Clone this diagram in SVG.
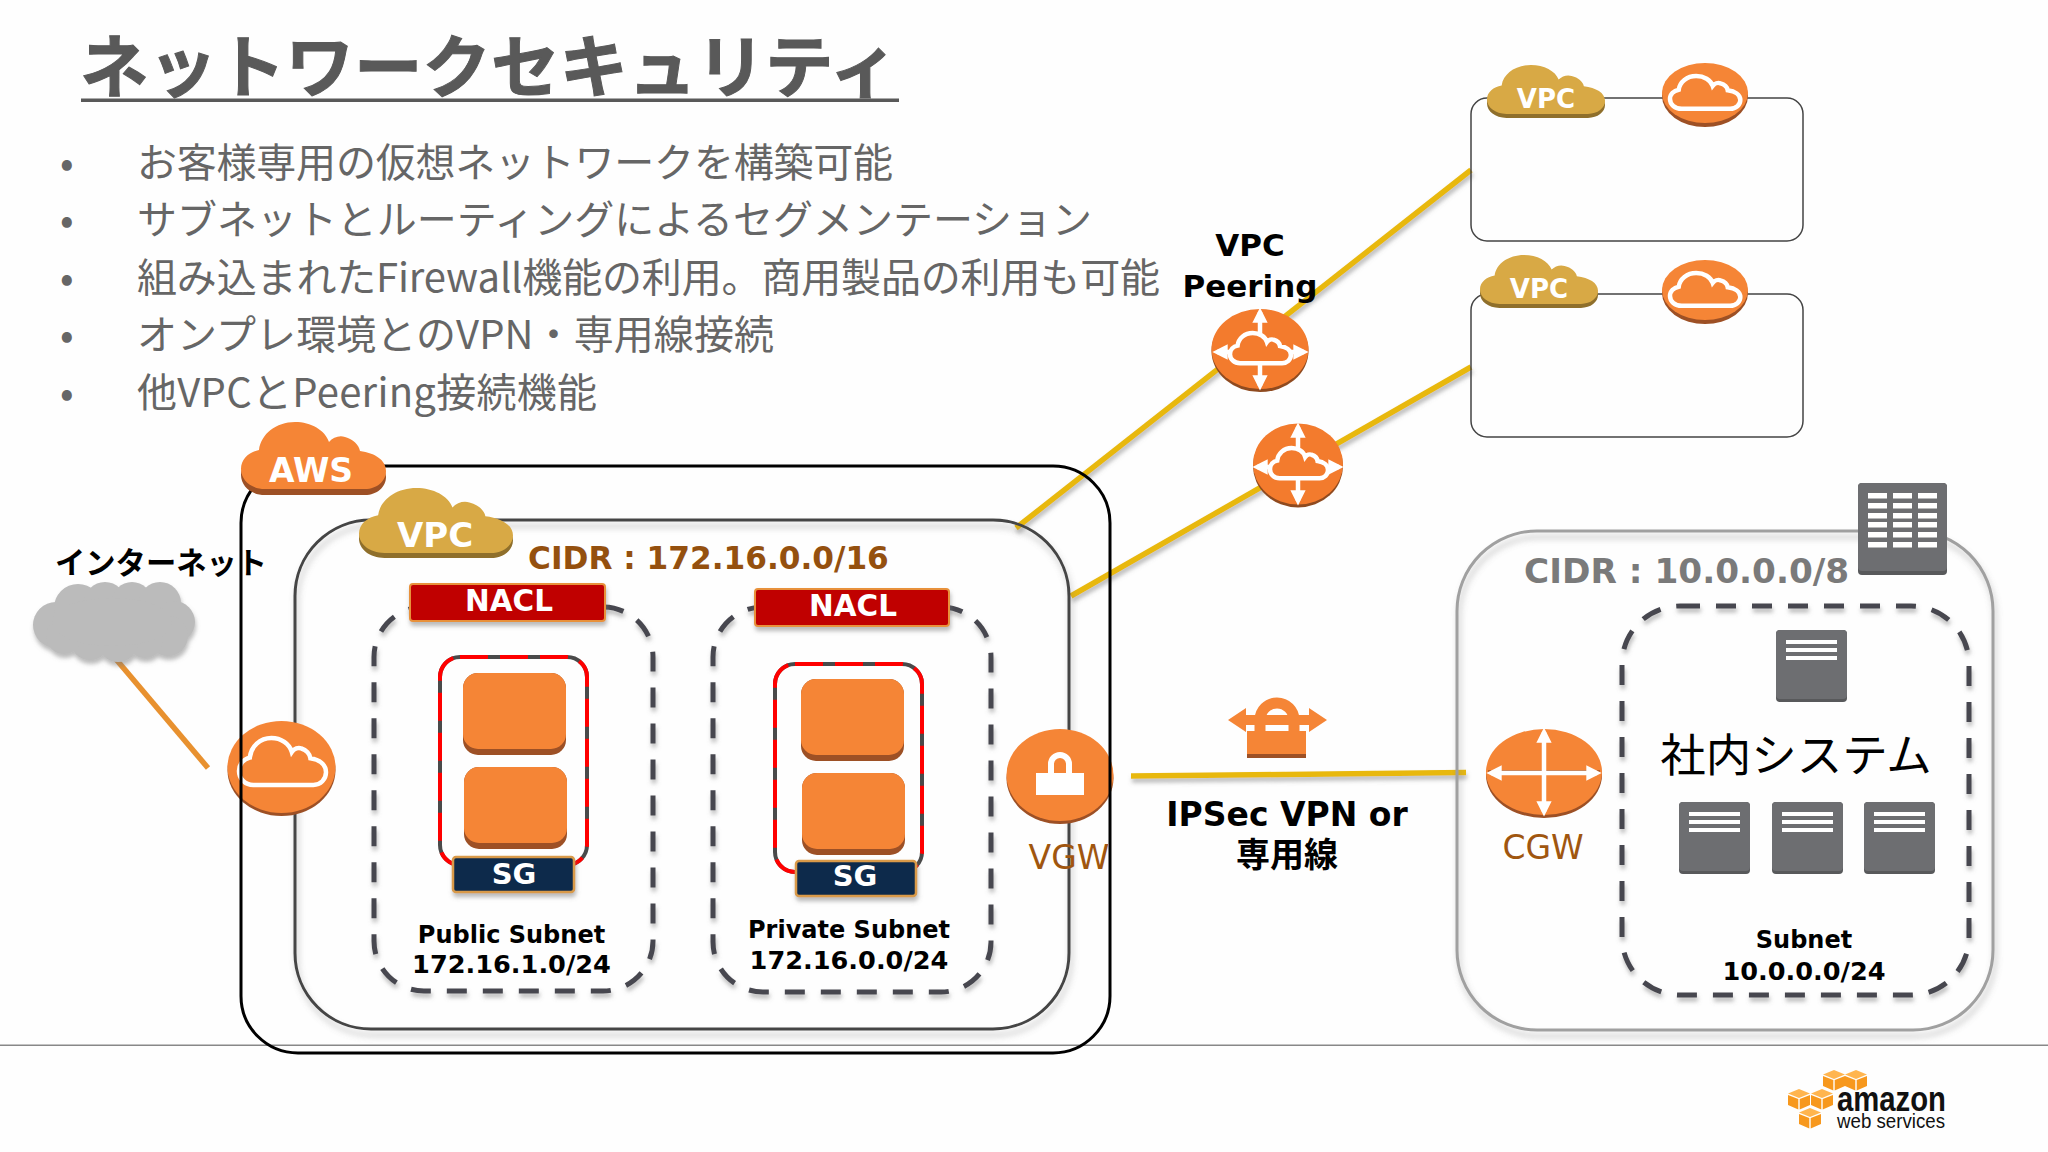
<svg xmlns="http://www.w3.org/2000/svg" width="2048" height="1152" viewBox="0 0 2048 1152">
<style>
.jp{font-family:"Noto Sans CJK JP","Noto Sans",sans-serif}
.dv{font-family:"DejaVu Sans","Noto Sans CJK JP",sans-serif}
.b{font-weight:700}
.m{text-anchor:middle}
.bl{font-size:40px;fill:#666}
.w{fill:#fff}
.k{fill:#000}
.cap{font-size:24px}
.num{font-size:25.600px}
.br{fill:#A0560F}
.yl{stroke:#E8B80C;stroke-width:5.500;fill:none}
.dash{fill:none;stroke:#47474F;stroke-width:5;stroke-dasharray:20 16}
.o{fill:#F58536}
.od{fill:#9D5025}
.p{fill:#F37B2D}
.pd{fill:#8F4A1F}
.g{fill:#D8A945}
.gd{fill:#8F6F2B}
.srv{fill:#6D6E71}
.srvd{fill:#58595B}
.wl{fill:none;stroke:#fff;stroke-width:4.500}
.arr{stroke:#fff;stroke-width:4.500;fill:none;marker-start:url(#wa);marker-end:url(#wa)}
.sgr{fill:none;stroke:#4A4A4A;stroke-width:4}
.sgd{fill:none;stroke:#F00;stroke-width:4;stroke-dasharray:28 12}
</style>
<defs>
<filter id="sh" filterUnits="userSpaceOnUse" x="0" y="0" width="2048" height="1152"><feDropShadow dx="2" dy="6" stdDeviation="3" flood-color="#777" flood-opacity=".45"/></filter>
<filter id="shs" filterUnits="userSpaceOnUse" x="0" y="0" width="2048" height="1152"><feDropShadow dx="1" dy="4" stdDeviation="2" flood-color="#777" flood-opacity=".5"/></filter>
<marker id="wa" viewBox="0 0 10 10" refX="7" refY="5" markerWidth="3.400" markerHeight="3.400" orient="auto-start-reverse"><path d="M0 0L10 5L0 10Z" fill="#fff"/></marker>
<path id="cl" vector-effect="non-scaling-stroke" d="M24 67C10 67 0 58 0 47C0 37 8 30 18 28C20 12 35 0 54 0C70 0 84 8 88 20C92 15 99 13 104 15C112 17 118 23 119 29C134 31 145 38 145 49C145 59 136 67 124 67Z"/>
<g id="srvI"><rect class="srvd" width="71" height="72" rx="4"/><rect class="srv" width="71" height="69" rx="4"/><rect class="w" x="10" y="10" width="51" height="4"/><rect class="w" x="10" y="18" width="51" height="4"/><rect class="w" x="10" y="26" width="51" height="4"/></g>
<g id="ec2a"><rect class="od" width="103" height="82" rx="15"/><rect class="o" width="103" height="76" rx="15"/></g>
<g id="cube"><path fill="#FFB54F" d="M11 0L22 4.500L11 9L0 4.500Z"/><path fill="#F7981D" d="M0 6L10.300 10V20.500L0 16ZM11.700 10L22 6V16L11.700 20.500Z"/></g>
<g id="igw"><ellipse class="od" cx="0" cy="3" rx="43" ry="31"/><ellipse class="o" cx="0" cy="0" rx="43" ry="30"/><use href="#cl" class="wl" transform="translate(-35,-17) scale(.485,.49)"/></g>
</defs>
<rect width="2048" height="1152" fill="#FEFEFE"/>

<g id="title">
<text class="jp b" x="80" y="92" font-size="68.500" fill="#595959" stroke="#595959" stroke-width="1">ネットワークセキュリティ</text>
<rect x="81" y="98.500" width="818" height="3.500" fill="#595959"/>
</g>
<g id="bullets" class="jp bl">
<text x="60" y="177">•</text><text x="137" y="177" textLength="756">お客様専用の仮想ネットワークを構築可能</text>
<text x="60" y="234">•</text><text x="137" y="234" textLength="955">サブネットとルーティングによるセグメンテーション</text>
<text x="60" y="292">•</text><text x="137" y="292" textLength="1023">組み込まれたFirewall機能の利用。商用製品の利用も可能</text>
<text x="60" y="349">•</text><text x="137" y="349" textLength="637">オンプレ環境とのVPN・専用線接続</text>
<text x="60" y="407">•</text><text x="137" y="407" textLength="460">他VPCとPeering接続機能</text>
</g>
<rect id="rule" x="0" y="1044.500" width="2048" height="1.500" fill="#888"/>

<g id="connectors">
<line class="yl" filter="url(#shs)" x1="1016" y1="528" x2="1471" y2="170"/>
<line class="yl" filter="url(#shs)" x1="1071" y1="596" x2="1471" y2="367"/>
<line class="yl" filter="url(#shs)" x1="1131" y1="776" x2="1466" y2="772.500"/>
<line x1="115" y1="658" x2="208" y2="768" stroke="#E8912F" stroke-width="5.500"/>
</g>

<g id="vpc-main"><rect x="295" y="520" width="774" height="509" rx="76" fill="none" stroke="#444" stroke-width="3" filter="url(#sh)"/></g>

<g id="igw-main"><ellipse class="od" cx="281.500" cy="770" rx="54" ry="46"/><ellipse class="o" cx="281.500" cy="767" rx="54" ry="46"/><use href="#cl" class="wl" transform="translate(239,738) scale(.6,.7)"/></g>

<g id="vgw"><ellipse class="od" cx="1060" cy="778" rx="53.500" ry="46"/><ellipse class="o" cx="1060" cy="775" rx="53.500" ry="46"/><rect class="w" x="1036" y="773" width="48" height="22"/><path d="M1051 774V764A9 9 0 0 1 1069 764V774" fill="none" stroke="#fff" stroke-width="6"/></g>

<g id="aws-box"><rect x="241" y="466" width="869" height="587" rx="57" fill="none" stroke="#000" stroke-width="3"/></g>

<g id="aws-cloud"><use href="#cl" class="od" transform="translate(241,428)"/><use href="#cl" class="o" transform="translate(241,422)"/><text class="dv b w m" x="311" y="482" font-size="33">AWS</text></g>
<g id="vpc-cloud"><use href="#cl" class="gd" transform="translate(359,493) scale(1.062,.97)"/><use href="#cl" class="g" transform="translate(359,488) scale(1.062,.97)"/><text class="dv b w m" x="435" y="547" font-size="34">VPC</text></g>
<text id="cidr-main" class="dv b" x="528" y="569" font-size="31.200" fill="#94500F">CIDR : 172.16.0.0/16</text>

<g id="internet"><text class="jp b k" x="55" y="574" font-size="30.300">インターネット</text>
<g fill="#BBB" filter="url(#shs)"><circle cx="56" cy="625" r="23"/><circle cx="78" cy="608" r="24"/><circle cx="105" cy="603" r="21"/><circle cx="132" cy="602" r="20"/><circle cx="160" cy="603" r="21"/><circle cx="174" cy="622" r="21"/><circle cx="168" cy="636" r="20"/><circle cx="145" cy="640" r="18"/><circle cx="118" cy="642" r="20"/><circle cx="90" cy="640" r="20"/><circle cx="64" cy="636" r="18"/><ellipse cx="112" cy="622" rx="60" ry="24"/></g></g>

<g id="subnet-public">
<rect class="dash" x="374" y="607" width="279" height="384" rx="50" filter="url(#shs)"/>
<rect class="sgr" x="440" y="657" width="147" height="208" rx="20"/><rect class="sgd" x="440" y="657" width="147" height="208" rx="20"/>
<use href="#ec2a" x="463" y="673"/><use href="#ec2a" x="464" y="767"/>
<g filter="url(#shs)"><rect x="410" y="584" width="195" height="37" rx="3" fill="#C00000" stroke="#E8913A" stroke-width="2"/></g>
<text class="dv b w m" x="509" y="611" font-size="29.500">NACL</text>
<g filter="url(#shs)"><rect x="453" y="857" width="121" height="35" rx="3" fill="#0F2B4C" stroke="#D99A4A" stroke-width="2.500"/></g>
<text class="dv b w m" x="514" y="884" font-size="29">SG</text>
<text class="dv b k m cap" x="511.500" y="943">Public Subnet</text>
<text class="dv b k m num" x="511.500" y="973">172.16.1.0/24</text>
</g>

<g id="subnet-private">
<rect class="dash" x="713" y="607" width="278" height="385" rx="50" filter="url(#shs)"/>
<rect class="sgr" x="775" y="664" width="147" height="208" rx="20"/><rect class="sgd" x="775" y="664" width="147" height="208" rx="20"/>
<use href="#ec2a" x="801" y="679"/><use href="#ec2a" x="802" y="773"/>
<g filter="url(#shs)"><rect x="755" y="589" width="194" height="37" rx="3" fill="#C00000" stroke="#E8913A" stroke-width="2"/></g>
<text class="dv b w m" x="853" y="616" font-size="29.500">NACL</text>
<g filter="url(#shs)"><rect x="796" y="861" width="120" height="35" rx="3" fill="#0F2B4C" stroke="#D99A4A" stroke-width="2.500"/></g>
<text class="dv b w m" x="855" y="886" font-size="29">SG</text>
<text class="dv b k m cap" x="849" y="938">Private Subnet</text>
<text class="dv b k m num" x="849" y="969">172.16.0.0/24</text>
</g>
<text id="vgw-label" class="dv br m" x="1069" y="869" font-size="33">VGW</text>

<g id="vpc-a"><rect x="1471" y="98" width="332" height="143" rx="16" fill="none" stroke="#444" stroke-width="1.500"/>
<use href="#cl" class="gd" transform="translate(1487,69) scale(.814,.73)"/><use href="#cl" class="g" transform="translate(1487,65) scale(.814,.73)"/><text class="dv b w m" x="1546" y="108" font-size="26">VPC</text>
<use href="#igw" x="1705" y="93"/></g>
<g id="vpc-b"><rect x="1471" y="294" width="332" height="143" rx="16" fill="none" stroke="#444" stroke-width="1.500"/>
<use href="#cl" class="gd" transform="translate(1480,259) scale(.814,.73)"/><use href="#cl" class="g" transform="translate(1480,255) scale(.814,.73)"/><text class="dv b w m" x="1539" y="298" font-size="26">VPC</text>
<use href="#igw" x="1705" y="290"/></g>

<g id="peering-a"><ellipse class="pd" cx="1260" cy="351" rx="48.500" ry="41"/><ellipse class="p" cx="1260" cy="349" rx="48.500" ry="40"/>
<line class="arr" x1="1260" y1="312" x2="1260" y2="386"/><line class="arr" x1="1217" y1="352" x2="1304" y2="352"/>
<use href="#cl" class="p" transform="translate(1230,333) scale(.42,.45)"/><use href="#cl" class="wl" transform="translate(1230,333) scale(.42,.45)"/></g>
<g id="peering-b"><ellipse class="pd" cx="1298" cy="466" rx="45" ry="41.500"/><ellipse class="p" cx="1298" cy="464" rx="45" ry="40.500"/>
<line class="arr" x1="1298" y1="427" x2="1298" y2="501"/><line class="arr" x1="1257" y1="467" x2="1339" y2="467"/>
<use href="#cl" class="p" transform="translate(1270,448) scale(.4,.45)"/><use href="#cl" class="wl" transform="translate(1270,448) scale(.4,.45)"/></g>
<text id="peering-label" class="dv b k m" font-size="31"><tspan x="1250" y="256">VPC</tspan><tspan x="1250" y="297">Peering</tspan></text>

<g id="vpn"><path d="M1260 732V720A17 17 0 0 1 1294 720V732" fill="none" stroke="#F58536" stroke-width="11"/><path class="o" d="M1228 720L1246 708V715H1309V708L1327 720L1309 732V725H1246V732Z"/><rect class="o" x="1247" y="731" width="59" height="24"/><rect class="od" x="1247" y="754" width="59" height="4"/>
<text class="dv b k m" x="1287" y="826" font-size="33">IPSec VPN or</text><text class="jp b k m" x="1287" y="867" font-size="34">専用線</text></g>

<g id="onprem"><rect x="1457" y="531" width="536" height="499" rx="80" fill="none" stroke="#A0A0A0" stroke-width="3" filter="url(#sh)"/>
<text class="dv b" x="1524" y="583" font-size="34.300" fill="#7A7A7A">CIDR : 10.0.0.0/8</text></g>
<g id="dc"><rect class="srvd" x="1858" y="483" width="89" height="92" rx="4"/><rect class="srv" x="1858" y="483" width="89" height="88" rx="4"/>
<g class="w"><rect x="1868" y="493" width="19" height="5.500"/><rect x="1893" y="493" width="19" height="5.500"/><rect x="1918" y="493" width="19" height="5.500"/><rect x="1868" y="503" width="19" height="5.500"/><rect x="1893" y="503" width="19" height="5.500"/><rect x="1918" y="503" width="19" height="5.500"/><rect x="1868" y="513" width="19" height="5.500"/><rect x="1893" y="513" width="19" height="5.500"/><rect x="1918" y="513" width="19" height="5.500"/><rect x="1868" y="522" width="19" height="5.500"/><rect x="1893" y="522" width="19" height="5.500"/><rect x="1918" y="522" width="19" height="5.500"/><rect x="1868" y="532" width="19" height="5.500"/><rect x="1893" y="532" width="19" height="5.500"/><rect x="1918" y="532" width="19" height="5.500"/><rect x="1868" y="542" width="19" height="5.500"/><rect x="1893" y="542" width="19" height="5.500"/><rect x="1918" y="542" width="19" height="5.500"/></g></g>

<g id="cgw"><ellipse class="od" cx="1544" cy="775" rx="58" ry="43"/><ellipse class="o" cx="1544" cy="772" rx="58" ry="43"/><rect class="od" x="1488" y="770" width="112" height="4" opacity=".7"/>
<line class="arr" x1="1544" y1="732" x2="1544" y2="812"/><line class="arr" x1="1491" y1="773" x2="1597" y2="773"/>
<text class="dv br m" x="1543" y="859" font-size="33">CGW</text></g>

<g id="subnet-onprem"><rect class="dash" x="1622" y="606" width="347" height="389" rx="58" filter="url(#shs)"/>
<use href="#srvI" x="1776" y="630"/>
<text class="jp k m" x="1796" y="772" font-size="45.500">社内システム</text>
<use href="#srvI" x="1679" y="802"/><use href="#srvI" x="1772" y="802"/><use href="#srvI" x="1864" y="802"/>
<text class="dv b k m cap" x="1804" y="948">Subnet</text><text class="dv b k m num" x="1804" y="980">10.0.0.0/24</text></g>

<g id="logo"><use href="#cube" x="1823" y="1070"/><use href="#cube" x="1845" y="1070"/><use href="#cube" x="1788" y="1089"/><use href="#cube" x="1811" y="1089"/><use href="#cube" x="1799" y="1108"/>
<text x="1837" y="1111" font-family="Liberation Sans,sans-serif" font-weight="700" font-size="35" textLength="109" lengthAdjust="spacingAndGlyphs" fill="#111">amazon</text>
<text x="1837" y="1128" font-family="Liberation Sans,sans-serif" font-size="21" textLength="108" lengthAdjust="spacingAndGlyphs" fill="#111">web services</text></g>
</svg>
